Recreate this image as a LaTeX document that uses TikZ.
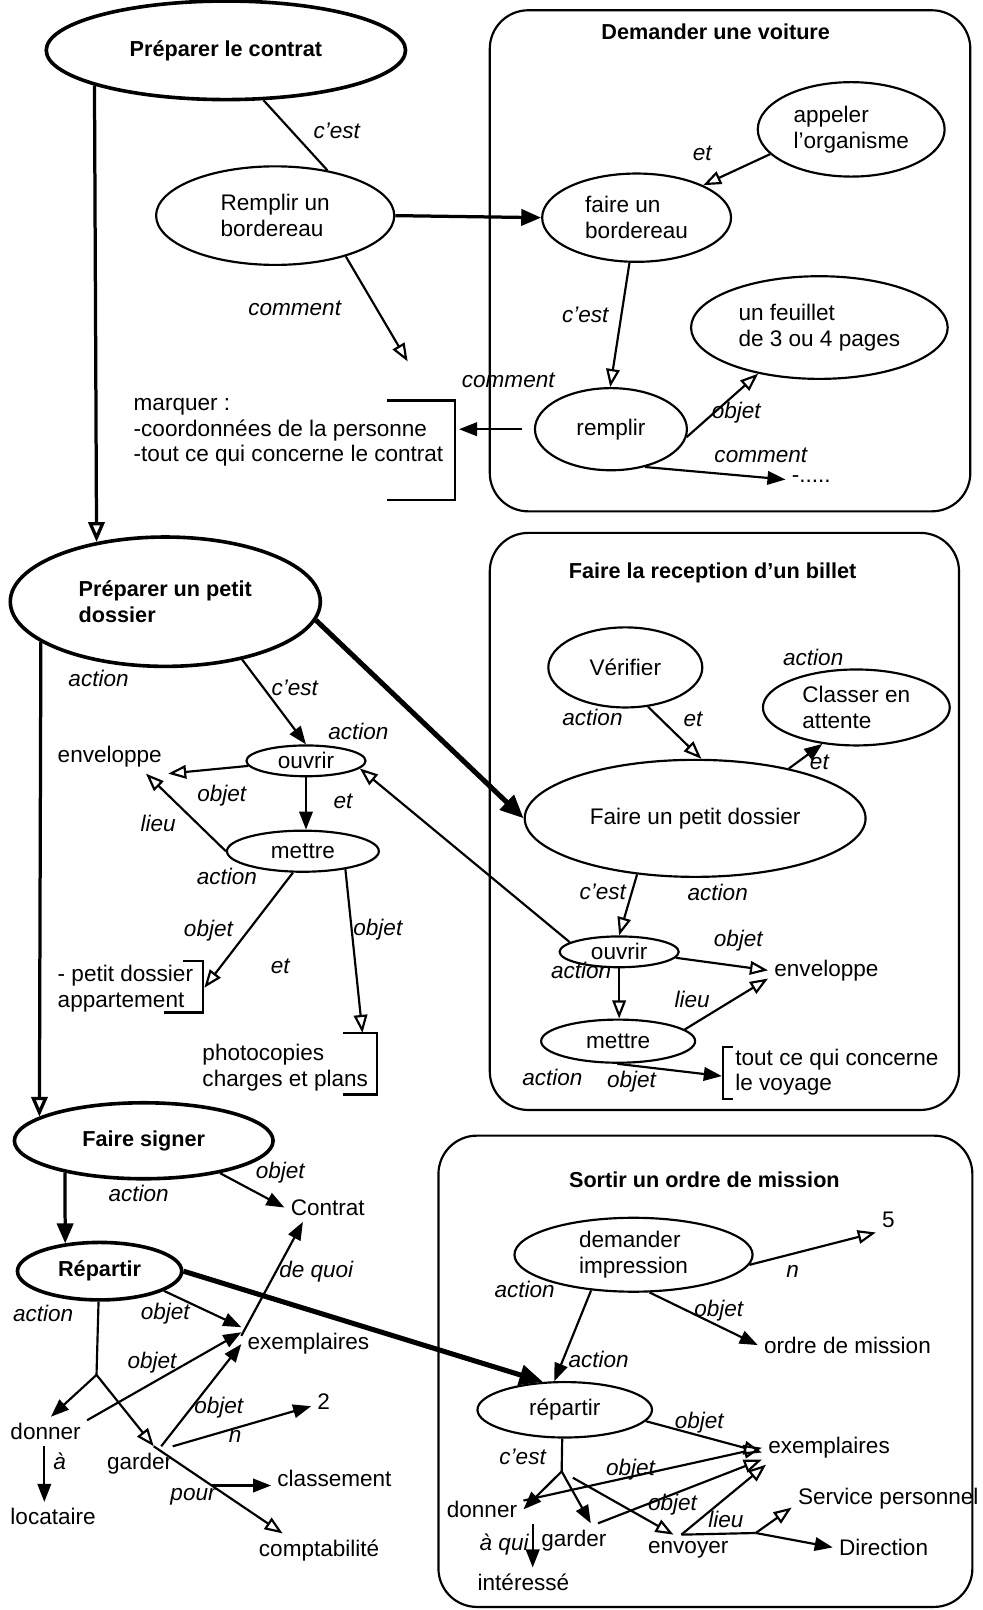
\documentclass[tikz,border=0pt]{standalone}
\usepackage{fontspec}
\setmainfont{Liberation Sans}
\usetikzlibrary{shapes.geometric,arrows.meta,calc}

\tikzset{
  every node/.style={font=\fontsize{12.5}{14.2}\selectfont},
  bubble/.style={draw, ellipse, line width=1.2pt, inner sep=0pt, align=left},
  boldbubble/.style={bubble, line width=2pt, font=\fontsize{12}{14.2}\selectfont\bfseries},
  panel/.style={line width=1.2pt, rounded corners=0.75cm},
  title/.style={font=\fontsize{12}{14.2}\selectfont\bfseries},
  tag/.style={font=\fontsize{12.5}{14.2}\selectfont\itshape, inner sep=1pt},
  plain/.style={anchor=west, align=left},
  link/.style={line width=1.2pt},
  arf/.style={link, -{Triangle[length=10pt,width=7.5pt]}},
  aro/.style={link, -{Triangle[open,length=10pt,width=7.5pt]}},
  mid/.style={line width=1.8pt, -{Triangle[length=11pt,width=9pt]}},
  midopen/.style={line width=1.8pt, -{Triangle[open,length=11pt,width=9pt]}},
  fat/.style={line width=2.8pt, -{Triangle[length=13pt,width=11pt]}}
}

\begin{document}
\begin{tikzpicture}[x=0.02cm,y=-0.02cm]
\useasboundingbox (0,0) rectangle (957,1568);

\draw[panel] (477,10) rectangle (945,498);
\draw[panel] (477,519) rectangle (934,1081);
\draw[panel] (427,1106) rectangle (947,1565);

\node[title] (t1) at (697,31) {Demander une voiture};
\node[title] (t2) at (694,558) {Faire la reception d'un billet};
\node[title] (t3) at (686,1149) {Sortir un ordre de mission};

\node[boldbubble, minimum width=7cm, minimum height=1.92cm] (plc) at (220,49) {Préparer le contrat};
\node[bubble, minimum width=4.64cm, minimum height=1.92cm] (remplirB) at (268,210) {Remplir un\\bordereau};
\node[bubble, minimum width=3.64cm, minimum height=1.84cm] (appeler) at (829,126) {appeler\\l'organisme};
\node[bubble, minimum width=3.68cm, minimum height=1.72cm] (faireB) at (620,212) {faire un\\bordereau};
\node[bubble, minimum width=5cm, minimum height=2cm] (feuillet) at (798,319) {un feuillet\\de 3 ou 4 pages};
\node[bubble, minimum width=2.96cm, minimum height=1.6cm] (remplirV) at (595,418) {remplir};

\node[boldbubble, minimum width=6.04cm, minimum height=2.52cm] (ppd) at (161,586) {Préparer un petit\\dossier};
\node[bubble, minimum width=2.32cm, minimum height=0.6cm] (ouvrirL) at (298,741) {ouvrir};
\node[bubble, minimum width=2.96cm, minimum height=0.8cm] (mettreL) at (295,829) {mettre};

\node[bubble, minimum width=3cm, minimum height=1.56cm] (verifier) at (609,650) {Vérifier};
\node[bubble, minimum width=3.64cm, minimum height=1.48cm] (classer) at (834,689) {Classer en\\attente};
\node[bubble, minimum width=6.64cm, minimum height=2.28cm] (fpd) at (677,797) {Faire un petit dossier};
\node[bubble, minimum width=2.32cm, minimum height=0.6cm] (ouvrirR) at (603,927) {ouvrir};
\node[bubble, minimum width=3cm, minimum height=0.84cm] (mettreR) at (602,1014) {mettre};

\node[boldbubble, minimum width=5.04cm, minimum height=1.48cm] (signer) at (140,1111) {Faire signer};
\node[boldbubble, minimum width=3.2cm, minimum height=1.12cm] (repartirL) at (97,1238) {Répartir};
\node[bubble, minimum width=4.64cm, minimum height=1.44cm] (demander) at (617,1222) {demander\\impression};
\node[bubble, minimum width=3.4cm, minimum height=1.08cm] (repartirR) at (550,1373) {répartir};

\node[plain] (mrq) at (124,421) {marquer :\\-coordonnées de la personne\\-tout ce qui concerne le contrat};
\node[plain] (dots) at (765,467) {-.....};
\node[plain] (env1) at (50,737) {enveloppe};
\node[plain] (pd) at (50,963) {- petit dossier\\appartement};
\node[plain] (photo) at (191,1040) {photocopies\\charges et plans};
\node[plain] (env2) at (748,945) {enveloppe};
\node[plain] (voyage) at (710,1044) {tout ce qui concerne\\le voyage};
\node[plain] (contrat) at (277,1176) {Contrat};
\node[plain] (exemL) at (235,1309) {exemplaires};
\node[plain] (two) at (303,1365) {2};
\node[plain] (donnerL) at (4,1394) {donner};
\node[plain] (locataire) at (4,1477) {locataire};
\node[plain] (garderL) at (98,1425) {garder};
\node[plain] (classement) at (264,1440) {classement};
\node[plain] (compta) at (246,1510) {comptabilité};
\node[plain] (five) at (853,1188) {5};
\node[plain] (ordre) at (738,1310) {ordre de mission};
\node[plain] (exemR) at (742,1410) {exemplaires};
\node[plain] (donnerR) at (429,1470) {donner};
\node[plain] (garderR) at (521,1500) {garder};
\node[plain] (envoyer) at (625,1509) {envoyer};
\node[plain] (interesse) at (459,1541) {intéressé};
\node[plain] (service) at (771,1460) {Service personnel};
\node[plain] (direction) at (811,1507) {Direction};

\coordinate (cmtend) at (397,352);
\coordinate (mrqb) at (447,418);
\coordinate (pdb) at (199,962);
\coordinate (phb) at (353,1006);
\coordinate (vyb) at (703,1048);
\coordinate (brL) at (94,1339);
\coordinate (brR) at (547,1433);
\coordinate (envsplit) at (736,1493);

\draw[link] (377,390) -- (443,390) -- (443,487) -- (377,487);
\draw[link] (178,936) -- (198,936) -- (198,986) -- (160,986);
\draw[link] (334,1006) -- (367,1006) -- (367,1066) -- (334,1066);
\draw[link] (714,1020) -- (704,1020) -- (704,1070) -- (714,1070);

\draw[link] (plc.-53) -- (remplirB.41);
\draw[mid] (remplirB.east) -- (faireB.west);
\draw[aro] (remplirB.-30) -- (cmtend);
\draw[midopen] (plc.-165) -- (ppd.139);
\draw[arf, shorten <=0.24cm] (remplirV.west) -- (mrqb);
\draw[aro] (appeler.-163) -- (faireB.26);
\draw[aro] (faireB.-99) -- (remplirV.91);
\draw[aro] (remplirV.-6) -- (feuillet.-143);
\draw[arf] (remplirV.-48) -- (dots.west);

\draw[midopen] (ppd.-162) -- (signer.167);
\draw[fat] (ppd.-7) -- (fpd.west);
\draw[arf] (ppd.-37) -- (ouvrirL.north);
\draw[aro] (ouvrirL.-175) -- (env1.south east);
\draw[arf] (ouvrirL.south) -- (ouvrirL.south |- mettreL.north);
\draw[aro] (mettreL.west) -- (env1.-25);
\draw[aro] (ouvrirR.169) -- (ouvrirL.-8);
\draw[aro] (mettreL.-115) -- (pdb);
\draw[aro] (mettreL.-23) -- (phb);

\draw[aro] (verifier.-60) -- (fpd.84);
\draw[arf] (fpd.28) -- (classer.-133);
\draw[aro] (fpd.-136) -- (ouvrirR.north);
\draw[aro] (ouvrirR.-6) -- (env2.west);
\draw[aro] (ouvrirR.south) -- (ouvrirR.south |- mettreR.north);
\draw[aro] (mettreR.10) -- (env2.-172);
\draw[arf] (mettreR.-92) -- (vyb);

\draw[arf] (signer.-23) -- (contrat.west);
\draw[mid] (signer.-158) -- (repartirL.141);
\draw[fat] (repartirL.east) -- (repartirR.128);
\draw[arf] (repartirL.-17) -- (exemL.north west);
\draw[arf] (exemL.173) -- (contrat.-150);
\draw[link] (repartirL.-92) -- (brL);
\draw[arf] (brL) -- (donnerL.70);
\draw[aro] (brL) -- (garderL.50);
\draw[aro] (garderL.50) -- (compta.155);
\coordinate (pourpt) at ($(garderL.50)!0.45!(compta.155)$);
\draw[arf] (pourpt) -- (pourpt -| classement.west);
\draw[arf] (donnerL.15) -- (exemL.170);
\draw[arf] (garderL.38) -- (exemL.west);
\draw[arf] (garderL.27) -- (two.-160);
\draw[arf] (donnerL.-95) -- (donnerL.-95 |- locataire.north);

\draw[aro] (demander.-5) -- (five.-135);
\draw[arf] (demander.-67) -- (ordre.west);
\draw[arf] (demander.-140) -- (repartirR.110);
\draw[aro] (repartirR.-8) -- (exemR.-176);
\draw[link] (repartirR.-95) -- (brR);
\draw[arf] (brR) -- (donnerR.east);
\draw[arf] (brR) -- (garderR.45);
\draw[aro, shorten <=0.25cm] (brR) -- (envoyer.135);
\draw[aro] (donnerR.12) -- (exemR.west);
\draw[aro] (garderR.35) -- (exemR.-170);
\draw[aro] (envoyer.115) -- (exemR.-165);
\draw[link] (envoyer.115) -- (envsplit);
\draw[aro] (envsplit) -- (service.-175);
\draw[arf] (envsplit) -- (direction.west);
\draw[arf] ([xshift=0.18cm]donnerR.south east) -- ([xshift=0.18cm]donnerR.south east |- interesse.north);

\node[tag] (la1) at (328,127) {c'est};
\node[tag] (la2) at (287,300) {comment};
\node[tag] (la3) at (684,149) {et};
\node[tag] (la4) at (570,307) {c'est};
\node[tag] (la5) at (495,370) {comment};
\node[tag] (la6) at (717,402) {objet};
\node[tag] (la7) at (741,443) {comment};

\node[tag] (lb1) at (96,661) {action};
\node[tag] (lb2) at (287,670) {c'est};
\node[tag] (lb3) at (349,712) {action};
\node[tag] (lb4) at (216,775) {objet};
\node[tag] (lb5) at (334,780) {et};
\node[tag] (lb6) at (154,802) {lieu};
\node[tag] (lb7) at (221,854) {action};
\node[tag] (lb8) at (203,906) {objet};
\node[tag] (lb9) at (368,905) {objet};
\node[tag] (lb10) at (273,941) {et};

\node[tag] (lc1) at (577,699) {action};
\node[tag] (lc2) at (675,701) {et};
\node[tag] (lc3) at (792,640) {action};
\node[tag] (lc4) at (798,742) {et};
\node[tag] (lc5) at (587,869) {c'est};
\node[tag] (lc6) at (699,869) {action};
\node[tag] (lc7) at (719,916) {objet};
\node[tag] (lc8) at (566,945) {action};
\node[tag] (lc9) at (674,973) {lieu};
\node[tag] (lc10) at (538,1049) {action};
\node[tag] (lc11) at (615,1053) {objet};

\node[tag] (ld1) at (273,1142) {objet};
\node[tag] (ld2) at (135,1162) {action};
\node[tag] (ld3) at (308,1238) {de quoi};
\node[tag] (ld4) at (42,1279) {action};
\node[tag] (ld5) at (161,1279) {objet};
\node[tag] (ld6) at (148,1327) {objet};
\node[tag] (ld7) at (213,1371) {objet};
\node[tag] (ld8) at (229,1399) {n};
\node[tag] (ld9) at (58,1423) {à};
\node[tag] (ld10) at (188,1458) {pour};

\node[tag] (le1) at (772,1238) {n};
\node[tag] (le2) at (511,1256) {action};
\node[tag] (le3) at (700,1276) {objet};
\node[tag] (le4) at (583,1324) {action};
\node[tag] (le5) at (681,1386) {objet};
\node[tag] (le6) at (509,1419) {c'est};
\node[tag] (le7) at (614,1431) {objet};
\node[tag] (le8) at (655,1465) {objet};
\node[tag] (le9) at (707,1480) {lieu};
\node[tag] (le10) at (491,1504) {à qui};
\end{tikzpicture}
\end{document}
